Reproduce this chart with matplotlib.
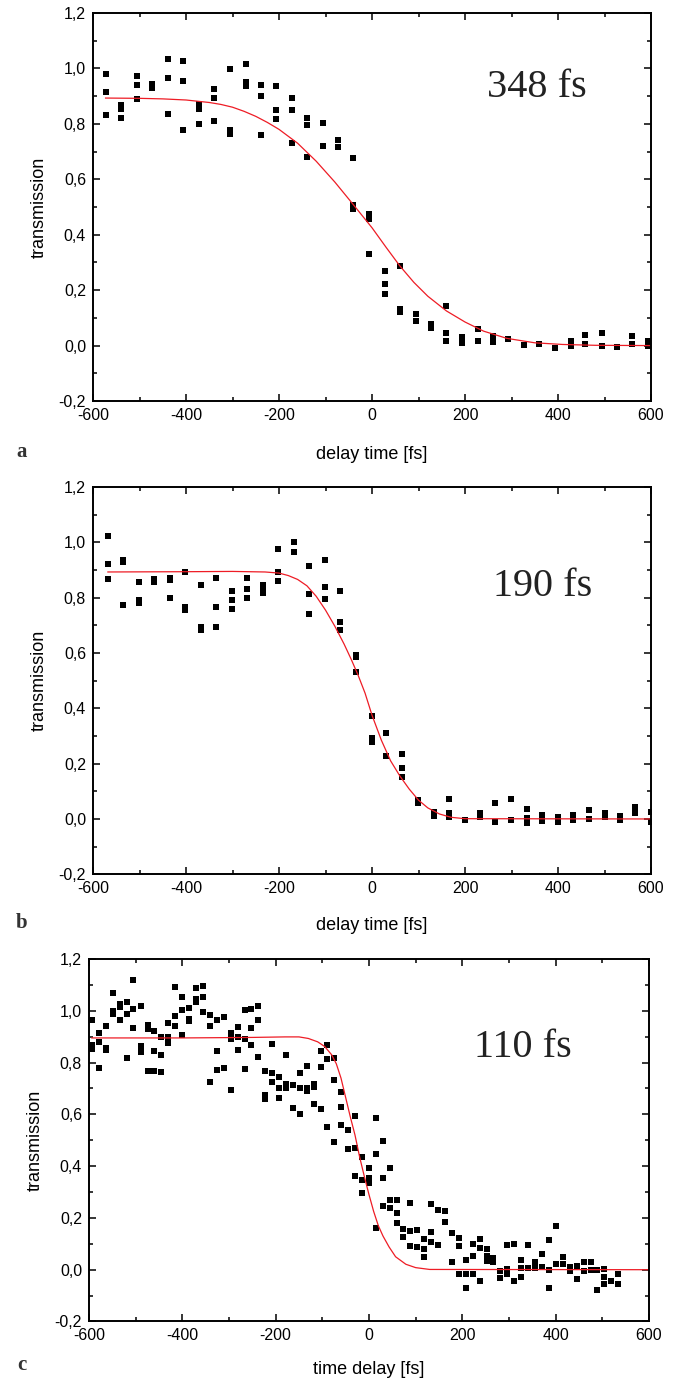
import matplotlib
matplotlib.use('Agg')
import matplotlib.pyplot as plt
from matplotlib import ticker

plt.rcParams['font.family'] = ['Liberation Sans', 'DejaVu Sans']

# ---- panel a: 348 fs ----
a_delay = [-573, -539, -506, -473, -439, -406, -373, -340, -306, -272, -239, -206,
           -172, -139, -106, -73, -40, -6, 27, 60, 94, 127, 159, 194, 227, 260,
           292, 327, 360, 393, 427, 459, 494, 527, 560, 594]
a_trans = [(0.981, 0.915, 0.831), (0.867, 0.855, 0.822), (0.971, 0.939, 0.891),
           (0.945, 0.930), (1.034, 0.967, 0.837), (1.026, 0.956, 0.776),
           (0.873, 0.855, 0.800), (0.925, 0.893, 0.810), (0.997, 0.776, 0.764),
           (1.016, 0.951, 0.935), (0.939, 0.900, 0.758), (0.935, 0.849, 0.819),
           (0.894, 0.849, 0.731), (0.822, 0.795, 0.681), (0.803, 0.721),
           (0.740, 0.716), (0.677, 0.506, 0.494), (0.475, 0.457, 0.331),
           (0.268, 0.223, 0.187), (0.287, 0.132, 0.120), (0.114, 0.088),
           (0.078, 0.064), (0.144, 0.045, 0.018), (0.030, 0.010), (0.060, 0.016),
           (0.033, 0.012), (0.024,), (0.002,), (0.006,), (-0.008,), (0.018, 0.000),
           (0.039, 0.006), (0.045, 0.000), (-0.004,), (0.036, 0.006), (0.016, 0.000)]
a_fit_t = [-573, -500, -450, -400, -350, -325, -300, -275, -250, -225, -200, -160,
           -120, -80, -40, 0, 30, 60, 90, 120, 160, 200, 240, 290, 350, 410, 480, 600]
a_fit_v = [0.893, 0.892, 0.890, 0.886, 0.877, 0.870, 0.860, 0.845, 0.827, 0.805,
           0.780, 0.730, 0.665, 0.590, 0.508, 0.425, 0.355, 0.287, 0.228, 0.178,
           0.125, 0.085, 0.052, 0.026, 0.010, 0.004, 0.001, 0.0]

# ---- panel b: 190 fs ----
b_delay = [-568, -535, -501, -468, -435, -402, -368, -335, -302, -268, -235, -202,
           -168, -135, -102, -68, -34, 0, 31, 65, 99, 133, 166, 199, 233, 265, 299,
           333, 366, 399, 433, 466, 500, 533, 565, 600]
b_trans = [(1.023, 0.923, 0.869), (0.938, 0.929, 0.773), (0.855, 0.791, 0.782),
           (0.869, 0.855), (0.873, 0.863, 0.800), (0.893, 0.767, 0.757),
           (0.845, 0.695, 0.685), (0.872, 0.767, 0.693), (0.825, 0.793, 0.760),
           (0.872, 0.833, 0.800), (0.845, 0.833, 0.817), (0.975, 0.893, 0.861),
           (1.002, 0.965), (0.915, 0.815, 0.740), (0.935, 0.839, 0.795),
           (0.825, 0.713, 0.683), (0.592, 0.584, 0.532), (0.373, 0.291, 0.279),
           (0.312, 0.229), (0.234, 0.185, 0.153), (0.069, 0.057), (0.026, 0.012),
           (0.071, 0.020, 0.008), (-0.004,), (0.020, 0.008), (0.057, -0.010),
           (0.071, -0.004), (0.036, 0.002, -0.013), (0.014, -0.007), (0.008, -0.012),
           (0.014, -0.004), (0.032, 0.000), (0.020, 0.006), (0.012, -0.004),
           (0.045, 0.020), (0.026, -0.012)]
b_fit_t = [-568, -400, -300, -230, -200, -180, -160, -140, -120, -100, -80, -60,
           -45, -30, -15, 0, 20, 40, 60, 80, 100, 120, 145, 170, 200, 600]
b_fit_v = [0.893, 0.894, 0.895, 0.893, 0.889, 0.880, 0.866, 0.843, 0.805, 0.755,
           0.697, 0.632, 0.578, 0.520, 0.455, 0.375, 0.285, 0.210, 0.155, 0.108,
           0.068, 0.040, 0.018, 0.006, 0.001, 0.0]

# ---- panel c: 110 fs ----
c_delay = [-594, -579, -564, -549, -534, -519, -505, -489, -474, -460, -445, -430,
           -415, -401, -386, -371, -356, -341, -326, -311, -296, -281, -266, -252,
           -237, -222, -207, -192, -177, -162, -147, -133, -118, -103, -89, -74,
           -60, -45, -30, -15, 0, 14, 29, 44, 59, 73, 87, 103, 118, 133, 147, 162,
           177, 192, 207, 222, 237, 252, 266, 281, 296, 311, 326, 341, 356, 370,
           385, 400, 415, 430, 445, 460, 475, 489, 504, 519, 534]
c_trans = [(0.966, 0.867, 0.854), (0.915, 0.879, 0.778), (0.941, 0.858, 0.848),
           (1.067, 0.999, 0.987), (1.026, 1.016, 0.963), (1.034, 0.986, 0.817),
           (1.120, 1.005, 0.935), (1.019, 0.863, 0.840), (0.946, 0.928, 0.768),
           (0.923, 0.846, 0.768), (0.898, 0.830, 0.763), (0.952, 0.899, 0.876),
           (1.093, 0.978, 0.942), (1.055, 1.003, 0.905), (1.012, 0.970, 0.961),
           (1.086, 1.044, 1.032), (1.095, 1.055, 0.996), (0.985, 0.941, 0.724),
           (0.963, 0.843, 0.773), (0.975, 0.778), (0.915, 0.890, 0.693),
           (0.937, 0.897, 0.848), (1.004, 0.892, 0.775), (1.006, 0.932, 0.868),
           (1.018, 0.964, 0.822), (0.768, 0.674, 0.658), (0.872, 0.761, 0.723),
           (0.746, 0.702, 0.662), (0.831, 0.716, 0.703), (0.715, 0.626),
           (0.760, 0.702, 0.601), (0.786, 0.702, 0.689), (0.719, 0.706, 0.641),
           (0.846, 0.782, 0.619), (0.867, 0.814, 0.552), (0.817, 0.731, 0.494),
           (0.686, 0.630, 0.557), (0.540, 0.468), (0.592, 0.469, 0.363),
           (0.434, 0.346, 0.295), (0.394, 0.355, 0.336), (0.585, 0.446, 0.161),
           (0.497, 0.353, 0.245), (0.394, 0.269, 0.239), (0.269, 0.220, 0.182),
           (0.159, 0.127), (0.256, 0.150, 0.090), (0.152, 0.088),
           (0.120, 0.081, 0.049), (0.252, 0.146, 0.107), (0.230, 0.097),
           (0.226, 0.185), (0.142, 0.030), (0.123, 0.092, -0.016),
           (0.036, -0.016, -0.071), (0.101, 0.052, -0.016), (0.118, 0.084, -0.045),
           (0.081, 0.052, 0.032), (0.047, 0.030), (-0.006, -0.031),
           (0.094, 0.004, -0.018), (0.101, -0.045), (0.039, 0.006, -0.028),
           (0.097, 0.008), (0.030, 0.008), (0.062, 0.010), (0.116, 0.000, -0.071),
           (0.168, 0.021), (0.049, 0.021), (0.010, -0.006), (0.013, -0.035),
           (0.030, -0.006), (0.030, 0.000), (0.000, -0.078), (0.001, -0.030, -0.057),
           (-0.045,), (-0.016, -0.057)]
c_fit_t = [-594, -400, -250, -180, -150, -130, -110, -95, -80, -70, -60, -50, -40,
           -30, -20, -10, 0, 10, 20, 30, 43, 57, 79, 100, 130, 600]
c_fit_v = [0.895, 0.895, 0.897, 0.899, 0.899, 0.893, 0.880, 0.862, 0.830, 0.795,
           0.740, 0.665, 0.590, 0.520, 0.435, 0.360, 0.290, 0.225, 0.170, 0.130,
           0.088, 0.050, 0.021, 0.008, 0.001, 0.0]

panels = [
    ('a', a_delay, a_trans, a_fit_t, a_fit_v, '348 fs', 354, 0.93, 'delay time [fs]'),
    ('b', b_delay, b_trans, b_fit_t, b_fit_v, '190 fs', 367, 0.84, 'delay time [fs]'),
    ('c', c_delay, c_trans, c_fit_t, c_fit_v, '110 fs', 330, 0.86, 'time delay [fs]'),
]
# axes rectangles in figure fraction (683 x 1379 px)
rects = [[0.1362, 0.7092, 0.8170, 0.2814],
         [0.1362, 0.3660, 0.8170, 0.2808],
         [0.1303, 0.0417, 0.8199, 0.2629]]
letter_y = [0.672, 0.331, 0.010]
xlabel_pad = [16.5, 15, 13]

fig = plt.figure(figsize=(6.83, 13.79), dpi=100)

for (letter, delay, trans, fit_t, fit_v, label, lx, ly, xlab), rect, yl, lp in zip(panels, rects, letter_y, xlabel_pad):
    ax = fig.add_axes(rect)
    xs, ys = [], []
    for t, vals in zip(delay, trans):
        for v in vals:
            xs.append(t)
            ys.append(v)
    ax.plot(xs, ys, 's', color='black', markersize=3.9, markeredgewidth=0)
    ax.plot(fit_t, fit_v, color='#ee1c25', linewidth=0.9)
    ax.set_xlim(-600, 600)
    ax.set_ylim(-0.2, 1.2)
    ax.xaxis.set_major_locator(ticker.MultipleLocator(200))
    ax.xaxis.set_minor_locator(ticker.MultipleLocator(100))
    ax.yaxis.set_major_locator(ticker.MultipleLocator(0.2))
    ax.yaxis.set_minor_locator(ticker.MultipleLocator(0.1))
    ax.xaxis.set_major_formatter(ticker.FuncFormatter(lambda v, p: '%d' % round(v)))
    ax.yaxis.set_major_formatter(ticker.FuncFormatter(lambda v, p: ('%.1f' % v).replace('.', ',').replace('-0,0', '0,0')))
    ax.tick_params(which='both', direction='in', top=True, right=True, labelsize=11.5, width=1.1)
    ax.tick_params(which='major', length=5, pad=5)
    ax.tick_params(which='minor', length=3)
    for s in ax.spines.values():
        s.set_linewidth(1.4)
    ax.set_ylabel('transmission', fontsize=13, labelpad=8)
    ax.set_xlabel(xlab, fontsize=13, labelpad=lp)
    ax.text(lx, ly, label, fontsize=29, family='Liberation Serif', color='#222222',
            ha='center', va='center')
    fig.text(0.032, yl, letter, fontsize=15, family='Liberation Serif', weight='bold',
             color='#333333', ha='center', va='center')

plt.savefig('out.png', dpi=100)
